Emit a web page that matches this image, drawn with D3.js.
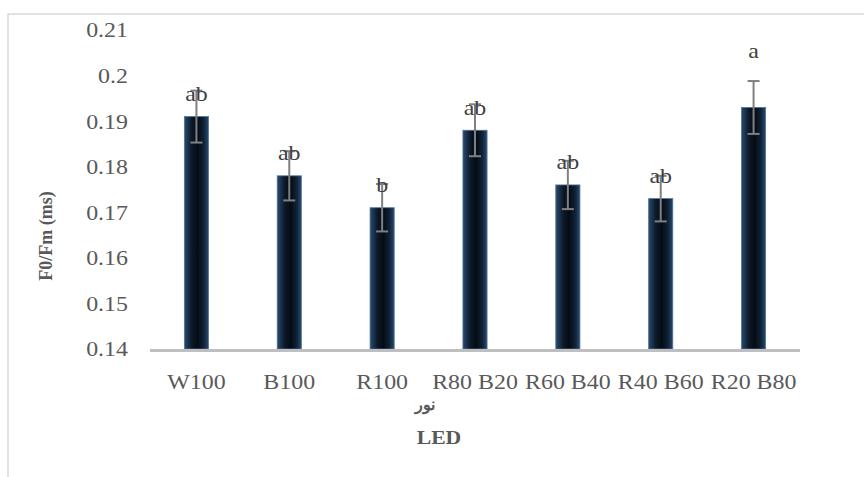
<!DOCTYPE html>
<html>
<head>
  <meta charset="utf-8">
  <title>F0/Fm LED</title>
  <script src="https://d3js.org/d3.v7.min.js"></script>
  <style>
    body { margin: 0; background: #fff; }
  </style>
</head>
<body>
<script>
    // data
    var categories = ["W100", "B100", "R100", "R80 B20", "R60 B40", "R40 B60", "R20 B80"]
    var values     = [0.191, 0.178, 0.171, 0.188, 0.176, 0.173, 0.193]
    var errors     = [0.0057, 0.0054, 0.0052, 0.0057, 0.0053, 0.0050, 0.0058]
    var letters    = ["ab", "ab", "b", "ab", "ab", "ab", "a"]
    var yTicks     = [0.14, 0.15, 0.16, 0.17, 0.18, 0.19, 0.2, 0.21]

    var W = 864, H = 477
    var serif = "'Liberation Serif', Tinos, 'Times New Roman', 'DejaVu Serif', serif"
    var stretch = 1.14   // the source text is a little wider than the font

    var svg = d3.select("body").append("svg")
        .attr("width", W).attr("height", H)
        .attr("font-family", serif)
        .style("font-family", serif)

    // outer chart frame (runs off the right and bottom)
    svg.append("rect")
        .attr("x", 8).attr("y", 14).attr("width", W).attr("height", H)
        .attr("fill", "none").attr("stroke", "#d9d9d9").attr("stroke-width", 1.5)

    // bar gradient, dark centre with bluish edges
    var grad = svg.append("defs").append("linearGradient")
        .attr("id", "barGrad").attr("x1", "0%").attr("x2", "100%").attr("y1", "0%").attr("y2", "0%")
    grad.append("stop").attr("offset", "0%").attr("stop-color", "#2a4a6e")
    grad.append("stop").attr("offset", "30%").attr("stop-color", "#0c1a2a")
    grad.append("stop").attr("offset", "55%").attr("stop-color", "#050b14")
    grad.append("stop").attr("offset", "80%").attr("stop-color", "#0f2236")
    grad.append("stop").attr("offset", "100%").attr("stop-color", "#2a4a6e")

    var x = d3.scaleBand().domain(categories).range([150, 800])
        .paddingInner(0.74).paddingOuter(0.37)
    var y = d3.scaleLinear().domain([0.14, 0.21]).range([349, 30])

    function place(px, py) {
        return "translate(" + px + "," + py + ") scale(" + stretch + ",1)"
    }

    // y tick labels (no axis line, no gridlines)
    svg.selectAll("text.ytick").data(yTicks).enter().append("text")
        .attr("class", "ytick")
        .attr("transform", function(d) { return place(128, y(d)) })
        .attr("dy", "0.35em").attr("text-anchor", "end")
        .attr("font-size", "21px").attr("fill", "#595959")
        .text(function(d) { return String(+d.toFixed(2)) })

    var data = categories.map(function(c, i) {
        return {cat: c, v: values[i], e: errors[i], lab: letters[i]}
    })

    // bars
    svg.selectAll("rect.bar").data(data).enter().append("rect")
        .attr("class", "bar")
        .attr("x", function(d) { return x(d.cat) })
        .attr("y", function(d) { return y(d.v) })
        .attr("width", x.bandwidth())
        .attr("height", function(d) { return y(0.14) - y(d.v) })
        .attr("fill", "url(#barGrad)")
        .attr("stroke", "#4f739c").attr("stroke-width", 0.8)

    // bottom axis line
    svg.append("line")
        .attr("x1", 150).attr("x2", 800).attr("y1", 350.5).attr("y2", 350.5)
        .attr("stroke", "#bfbfbf").attr("stroke-width", 3)

    // error bars
    var eb = svg.selectAll("g.err").data(data).enter().append("g").attr("class", "err")
        .attr("stroke", "#808080").attr("stroke-width", 2)
    var cx = function(d) { return x(d.cat) + x.bandwidth() / 2 }
    eb.append("line")
        .attr("x1", cx).attr("x2", cx)
        .attr("y1", function(d) { return y(d.v - d.e) })
        .attr("y2", function(d) { return y(d.v + d.e) })
    eb.append("line")
        .attr("x1", function(d) { return cx(d) - 6 }).attr("x2", function(d) { return cx(d) + 6 })
        .attr("y1", function(d) { return y(d.v - d.e) }).attr("y2", function(d) { return y(d.v - d.e) })
    eb.append("line")
        .attr("x1", function(d) { return cx(d) - 6 }).attr("x2", function(d) { return cx(d) + 6 })
        .attr("y1", function(d) { return y(d.v + d.e) }).attr("y2", function(d) { return y(d.v + d.e) })

    // significance letters
    svg.selectAll("text.sig").data(data).enter().append("text")
        .attr("class", "sig")
        .attr("transform", function(d) {
            return place(cx(d), d.lab === "a" ? y(d.v + d.e) - 30 : y(d.v) - 23)
        })
        .attr("dy", "0.35em").attr("text-anchor", "middle")
        .attr("font-size", "21px").attr("fill", "#404040")
        .text(function(d) { return d.lab })

    // category labels
    svg.selectAll("text.xtick").data(categories).enter().append("text")
        .attr("class", "xtick")
        .attr("transform", function(d) { return place(x(d) + x.bandwidth() / 2, 382) })
        .attr("dy", "0.35em").attr("text-anchor", "middle")
        .attr("font-size", "21px").attr("fill", "#595959")
        .text(function(d) { return d })

    // axis titles
    svg.append("text")
        .attr("x", 425).attr("y", 404).attr("dy", "0.35em").attr("text-anchor", "middle")
        .attr("font-size", "16px").attr("font-weight", "bold").attr("fill", "#595959")
        .attr("direction", "rtl")
        .text("نور")
    svg.append("text")
        .attr("transform", place(439, 437))
        .attr("dy", "0.35em").attr("text-anchor", "middle")
        .attr("font-size", "19px").attr("font-weight", "bold").attr("fill", "#595959")
        .text("LED")
    svg.append("text")
        .attr("transform", "translate(46,236) rotate(-90)")
        .attr("dy", "0.35em").attr("text-anchor", "middle")
        .attr("font-size", "18px").attr("font-weight", "bold").attr("fill", "#595959")
        .text("F0/Fm (ms)")
</script>
</body>
</html>
